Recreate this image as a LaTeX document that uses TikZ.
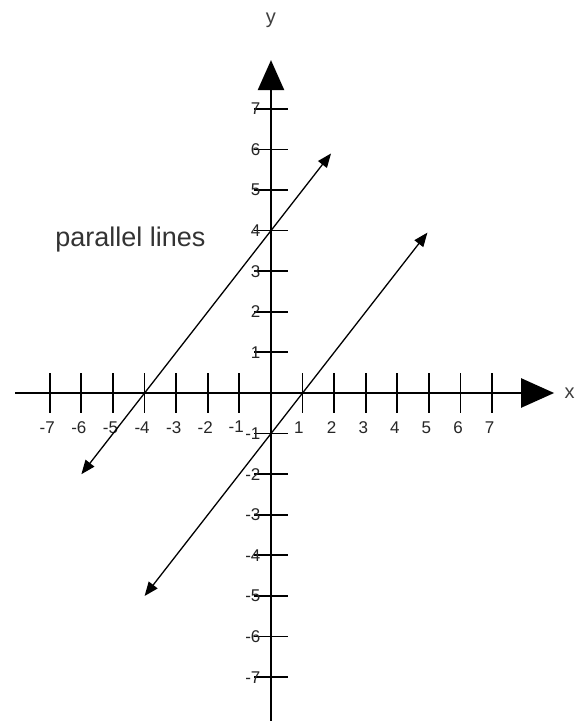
\documentclass[tikz,border=0pt]{standalone}
\usepackage{fontspec}
\setmainfont{Liberation Sans}
\usetikzlibrary{arrows.meta}
\begin{document}
\begin{tikzpicture}[x=31.6pt,y=40.6pt,
  axisline/.style={line width=2.4pt,black},
  tickmark/.style={line width=1.8pt,black},
  parline/.style={line width=1.3pt,black,{Triangle[length=14pt,width=11pt]}-{Triangle[length=14pt,width=11pt]}},
  ticklabel/.style={font=\fontsize{17}{17}\selectfont,text=black!85,inner sep=0pt},
  axislabel/.style={font=\fontsize{20}{20}\selectfont,text=black!75,inner sep=0pt}]
\useasboundingbox (-8.576,-8.079) rectangle (9.620,9.680);
\fill[white] (-8.576,-8.079) rectangle (9.620,9.680);
% axes
\coordinate (xs) at (-8.1,0);
\coordinate (xe) at (8.96,0);
\coordinate (ys) at (0,-8.08);
\coordinate (ye) at (0,8.2);
\draw[axisline,-{Triangle[length=33pt,width=29pt]}] (xs) -- (xe);
\draw[axisline,-{Triangle[length=30pt,width=26pt]}] (ys) -- (ye);
\node[axislabel] (xl) at (9.45,0) {x};
\node[axislabel] (yl) at (0,9.19) {y};
% x ticks
\foreach \i in {-7,...,-1,1,2,...,7}{
  \draw[tickmark] (\i,-0.49) -- (\i,0.49);
}
\foreach \i in {-7,...,-2,2,3,...,7}{
  \node[ticklabel] (xt\i) at (\i-0.08,-0.86) {\i};
}
\node[ticklabel] (xtm1) at (-1.1,-0.82) {-1};
\node[ticklabel] (xt1) at (0.88,-0.86) {1};
% y ticks
\foreach \j in {-7,...,-1,1,2,...,7}{
  \draw[tickmark] (-0.53,\j) -- (0.53,\j);
  \node[ticklabel,anchor=east] (yt\j) at (-0.33,\j) {\j};
}
% parallel lines
\coordinate (a1) at (-6,-2);
\coordinate (a2) at (1.9,5.9);
\coordinate (b1) at (-4,-5);
\coordinate (b2) at (4.95,3.95);
\draw[parline] (a1) -- (a2);
\draw[parline] (b1) -- (b2);
\node[font=\fontsize{27}{27}\selectfont,text=black!80,inner sep=0pt] (title) at (-4.45,3.78) {parallel lines};
\end{tikzpicture}
\end{document}
